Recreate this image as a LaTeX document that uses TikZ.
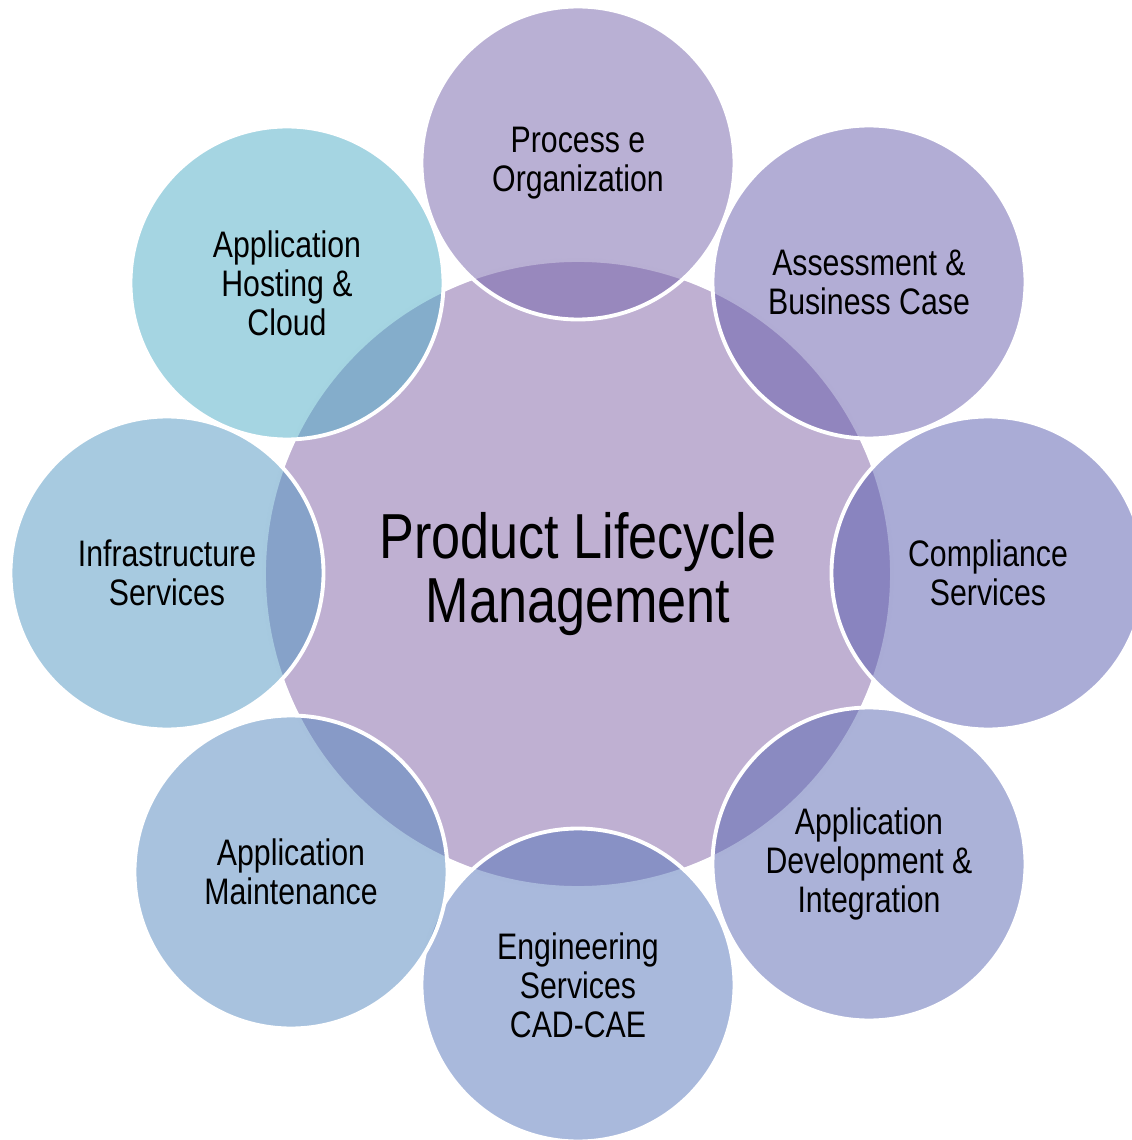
\documentclass[tikz,border=0pt]{standalone}
\usepackage{fontspec}
\setmainfont{Liberation Sans}[FakeStretch=0.82]
\definecolor{hubpurple}{RGB}{191,176,210}
\definecolor{procpurple}{RGB}{115,97,169}
\definecolor{assesspurple}{RGB}{101,91,171}
\definecolor{complpurple}{RGB}{85,89,173}
\definecolor{devblue}{RGB}{87,101,177}
\definecolor{engblue}{RGB}{83,115,185}
\definecolor{maintblue}{RGB}{81,133,189}
\definecolor{infrablue}{RGB}{79,149,193}
\definecolor{hostcyan}{RGB}{75,171,197}

\begin{document}
\begin{tikzpicture}[
    hub/.style={circle, draw=white, line width=1.1pt, fill=hubpurple, minimum size=6.28cm, inner sep=0pt, align=center, font=\fontsize{18.1}{18.2}\selectfont},
    petal/.style={circle, draw=white, line width=1.1pt, fill opacity=0.5, draw opacity=1, text opacity=1, minimum size=3.13cm, inner sep=0pt, align=center, font=\fontsize{10.5}{11.1}\selectfont}
]
\clip (-5.78,-5.66) rectangle (5.54,5.74);

% Central circle
\node[hub] (plm) at (0,0) {Product Lifecycle\\Management};

% Outer circles
\foreach \pos/\name/\col/\txt in {
    {(0,4.11)}/proc/procpurple/{Process e\\Organization},
    {(2.91,2.92)}/assess/assesspurple/{Assessment \&\\Business Case},
    {(4.10,0.01)}/compl/complpurple/{Compliance\\Services},
    {(2.91,-2.90)}/appdev/devblue/{Application\\Development \&\\Integration},
    {(0,-4.11)}/eng/engblue/{Engineering\\Services\\CAD-CAE},
    {(-2.87,-2.98)}/maint/maintblue/{Application\\Maintenance},
    {(-4.11,0.01)}/infra/infrablue/{Infrastructure\\Services},
    {(-2.91,2.91)}/host/hostcyan/{Application\\Hosting \&\\Cloud}} {
    \node[petal, fill=\col] (\name) at \pos {\txt};
}
\end{tikzpicture}
\end{document}
